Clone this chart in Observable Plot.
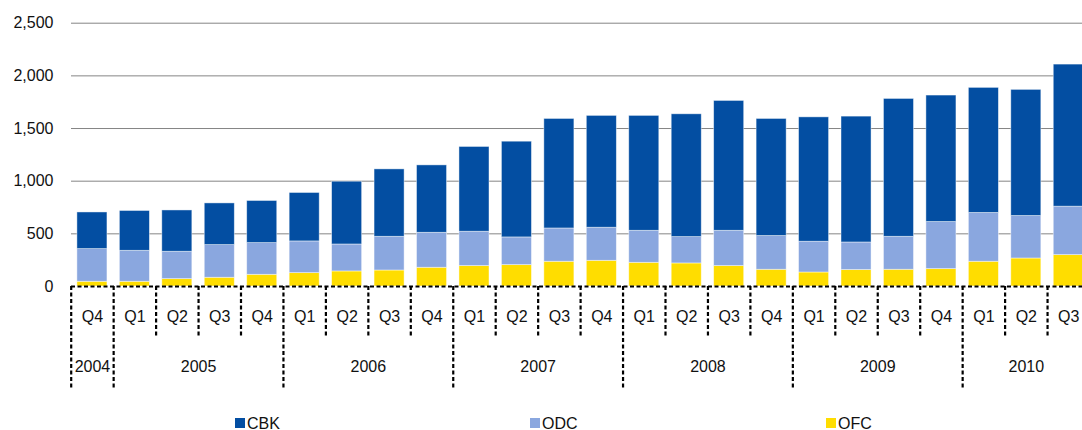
<!DOCTYPE html>
<html>
<head>
<meta charset="utf-8">
<script src="https://cdn.jsdelivr.net/npm/d3@7"></script>
<script src="https://cdn.jsdelivr.net/npm/@observablehq/plot@0.6"></script>
<style>
  html, body { margin: 0; padding: 0; background: #fff; overflow: hidden; }
  body { width: 1082px; height: 430px; font-family: "Liberation Sans", Arial, sans-serif; }
  #chart svg { display: block; overflow: hidden; }
  #legend { position: relative; height: 25px; width: 1082px; }
  .item { position: absolute; top: 9.5px; display: flex; align-items: center; gap: 2.5px; font-size: 16px; line-height: 17px; color: #111; }
  .sw { width: 9.5px; height: 9.5px; display: inline-block; }
</style>
</head>
<body>
<div id="chart"></div>
<div id="legend"></div>
<script>
// ---- data ----
const quarterLabels = ["Q4",
  "Q1","Q2","Q3","Q4",
  "Q1","Q2","Q3","Q4",
  "Q1","Q2","Q3","Q4",
  "Q1","Q2","Q3","Q4",
  "Q1","Q2","Q3","Q4",
  "Q1","Q2","Q3"];
const yearLabels = ["2004","2005","2006","2007","2008","2009","2010"];
const quartersPerYear = [1, 4, 4, 4, 4, 4, 3];
const seriesNames = ["CBK", "ODC", "OFC"];
const seriesColors = ["#034ea2", "#8aa7df", "#ffdd00"];
const CBK = [348, 378, 392, 396, 400, 460, 596, 640, 640, 805, 909, 1040, 1062, 1091, 1166, 1233, 1112, 1181, 1195, 1309, 1201, 1188, 1198, 1349];
const ODC = [310, 294, 260, 310, 301, 301, 256, 320, 332, 326, 263, 316, 314, 304, 250, 335, 320, 292, 262, 313, 447, 463, 403, 460];
const OFC = [45, 45, 70, 83, 111, 127, 143, 152, 178, 194, 203, 235, 244, 225, 219, 194, 159, 133, 156, 159, 165, 235, 266, 298];
const yTicks = [0, 500, 1000, 1500, 2000, 2500];

// ---- tables built from the arrays ----
const values = {CBK, ODC, OFC};
const rows = [];
quarterLabels.forEach((q, i) => {
  for (const s of ["OFC", "ODC", "CBK"]) rows.push({i, series: s, value: values[s][i]});
});
const quarterRows = quarterLabels.map((q, i) => ({i, q}));
const yearRows = [];
let start = 0;
yearLabels.forEach((y, k) => {
  yearRows.push({year: y, start, end: start + quartersPerYear[k]});
  start += quartersPerYear[k];
});
const yearBounds = [...new Set(yearRows.flatMap(d => [d.start, d.end]))];
const quarterBounds = d3.range(0, quarterLabels.length + 1).filter(b => !yearBounds.includes(b));

const black = "#000";
const dash = "4,2.5";

const chart = Plot.plot({
  width: 1082,
  height: 405,
  marginLeft: 71,
  marginRight: 0,
  marginTop: 23,
  marginBottom: 119,
  style: {fontFamily: "'Liberation Sans', Arial, sans-serif", color: "#111", background: "#fff"},
  x: {type: "linear", domain: [0, quarterLabels.length], range: [70.7, 1089.5], axis: null},
  y: {domain: [0, 2500], range: [286, 22.7], label: null},
  color: {domain: seriesNames, range: seriesColors},
  marks: [
    Plot.ruleY(yTicks.filter(d => d > 0), {stroke: "#858585", strokeWidth: 1}),
    Plot.rectY(rows, {
      x1: "i", x2: d => d.i + 1, y: "value", fill: "series",
      insetLeft: 6.2, insetRight: 6.2,
      stroke: "#fff", strokeWidth: 0.8, strokeOpacity: 0.55
    }),
    Plot.axisY({ticks: yTicks, tickSize: 0, tickPadding: 18, tickFormat: d3.format(","), fontSize: 16, fill: "#111", label: null}),
    Plot.ruleY([0], {stroke: black, strokeWidth: 2.2, strokeDasharray: dash}),
    Plot.ruleX(quarterBounds, {x: d => d, y1: 0, y2: 0, insetBottom: -51, stroke: black, strokeWidth: 2.2, strokeDasharray: dash}),
    Plot.ruleX(yearBounds, {x: d => d, y1: 0, y2: 0, insetBottom: -102, stroke: black, strokeWidth: 2.2, strokeDasharray: dash}),
    Plot.text(quarterRows, {x: d => d.i + 0.5, y: 0, dy: 30.5, text: "q", fontSize: 16, fill: "#111"}),
    Plot.text(yearRows, {x: d => (d.start + d.end) / 2, y: 0, dy: 80.7, text: "year", fontSize: 16, fill: "#111"})
  ]
});
document.getElementById("chart").appendChild(chart);

// ---- legend below the svg ----
const legendLeft = {CBK: 235, ODC: 530, OFC: 826};
const legend = document.getElementById("legend");
seriesNames.forEach((s, k) => {
  const item = document.createElement("div");
  item.className = "item";
  item.style.left = legendLeft[s] + "px";
  const sw = document.createElement("span");
  sw.className = "sw";
  sw.style.background = seriesColors[k];
  const t = document.createElement("span");
  t.textContent = s;
  item.appendChild(sw);
  item.appendChild(t);
  legend.appendChild(item);
});
</script>
</body>
</html>
